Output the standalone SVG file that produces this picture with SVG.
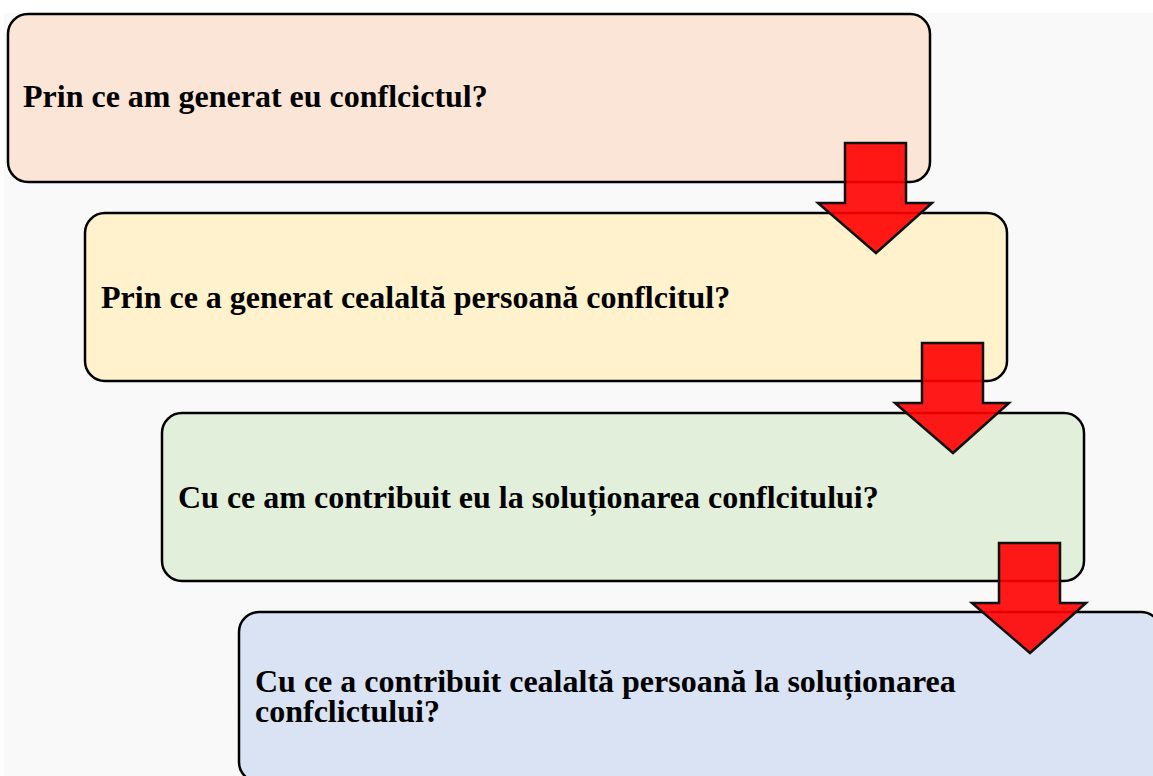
<svg xmlns="http://www.w3.org/2000/svg" width="1153" height="776" viewBox="0 0 1153 776">
<style>
.box{stroke:#000;stroke-width:2.5}
.t{font-family:"Liberation Serif","Times New Roman",serif;font-weight:bold;font-size:32px;fill:#000}
.arr{fill:#ff0000;fill-opacity:0.9;stroke:#111;stroke-width:2.5;stroke-linejoin:miter}
</style>
<defs>
<path id="downArrow" d="M0,0 H61 V60 H87 L31,110 L-27,60 H0 Z"/>
</defs>
<rect x="0" y="0" width="1153" height="776" fill="#ffffff"/>
<rect x="4" y="13" width="1149" height="763" fill="#f9f9f9"/>
<g id="node1">
<rect class="box" x="8" y="14" width="922" height="168" rx="20" fill="#fbe5d6"/>
<text class="t" x="23" y="107">Prin ce am generat eu conflcictul?</text>
</g>
<g id="node2">
<rect class="box" x="85" y="213" width="922" height="168" rx="20" fill="#fff2cc"/>
<text class="t" x="101" y="308">Prin ce a generat cealaltă persoană conflcitul?</text>
</g>
<g id="node3">
<rect class="box" x="162" y="413" width="922" height="168" rx="20" fill="#e2efda"/>
<text class="t" x="178" y="508">Cu ce am contribuit eu la soluționarea conflcitului?</text>
</g>
<g id="node4">
<rect class="box" x="239" y="612" width="922" height="170" rx="20" fill="#dae3f3"/>
<text class="t" x="255" y="692">Cu ce a contribuit cealaltă persoană la soluționarea<tspan x="255" y="722">confclictului?</tspan></text>
</g>
<g id="connectors">
<use href="#downArrow" class="arr" x="845" y="143"/>
<use href="#downArrow" class="arr" x="922" y="343"/>
<use href="#downArrow" class="arr" x="999" y="543"/>
</g>
</svg>
